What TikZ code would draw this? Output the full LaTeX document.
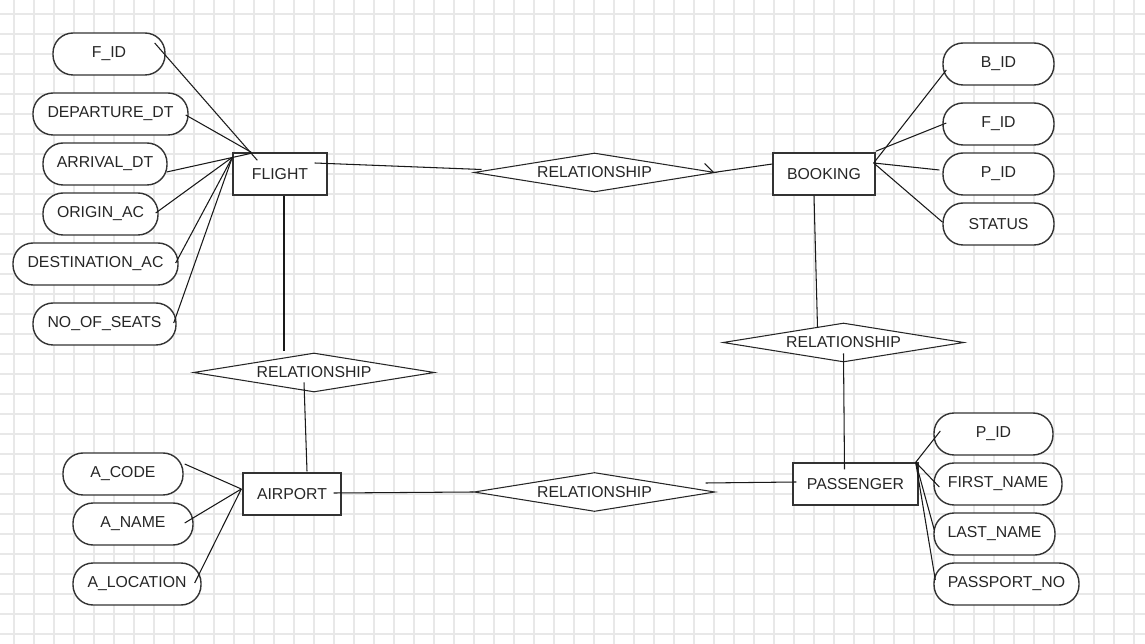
\documentclass[tikz,border=0pt]{standalone}
\usepackage{fontspec}
\setmainfont{Liberation Sans}
\usetikzlibrary{shapes.geometric}

\begin{document}
\begin{tikzpicture}[x=0.02cm,y=-0.02cm,font=\fontsize{9}{11}\selectfont,
    ent/.style={draw=black!80,fill=white,line width=0.8pt,minimum height=0.84cm,inner sep=0pt,text=black!85},
    attr/.style={draw=black!80,fill=white,line width=0.8pt,rounded corners=0.4cm,minimum height=0.84cm,inner sep=0pt,text=black!85},
    rel/.style={diamond,draw=black!85,fill=white,line width=0.6pt,aspect=6.2,inner sep=0pt,minimum width=4.82cm,minimum height=0.78cm,text=black!85},
    link/.style={black!90,line width=0.6pt},
    gridline/.style={black!9,line width=0.6pt}]
    \fill[white] (0,0) rectangle (1145,644);
    \useasboundingbox (0,0) rectangle (1145,644);
    \foreach \x in {14,34,...,1134} \draw[gridline] (\x,0) -- (\x,644);
    \foreach \y in {14,34,...,634} \draw[gridline] (0,\y) -- (1145,\y);

    \node[ent,minimum width=1.88cm] (flight) at (280,174) {FLIGHT};
    \node[ent,minimum width=2.04cm] (booking) at (824,174) {BOOKING};
    \node[ent,minimum width=1.96cm] (airport) at (292,494) {AIRPORT};
    \node[ent,minimum width=2.5cm] (passenger) at (855.5,484) {PASSENGER};

    \node[rel] (relfb) at (594.5,172.5) {RELATIONSHIP};
    \node[rel] (relfa) at (314,372.5) {RELATIONSHIP};
    \node[rel] (relbp) at (843.5,342.5) {RELATIONSHIP};
    \node[rel] (relap) at (594.5,492) {RELATIONSHIP};

    \node[attr,minimum width=2.24cm] (fid) at (109,54) {F\_ID};
    \node[attr,minimum width=3.1cm] (dep) at (110.5,114) {DEPARTURE\_DT};
    \node[attr,minimum width=2.48cm] (arr) at (105,164) {ARRIVAL\_DT};
    \node[attr,minimum width=2.3cm] (org) at (100.5,214) {ORIGIN\_AC};
    \node[attr,minimum width=3.3cm] (dst) at (95.5,264) {DESTINATION\_AC};
    \node[attr,minimum width=2.86cm] (nos) at (104.5,324) {NO\_OF\_SEATS};

    \node[attr,minimum width=2.22cm] (bid) at (998.5,64) {B\_ID};
    \node[attr,minimum width=2.22cm] (bfid) at (998.5,124) {F\_ID};
    \node[attr,minimum width=2.22cm] (bpid) at (998.5,174) {P\_ID};
    \node[attr,minimum width=2.22cm] (bstat) at (998.5,224) {STATUS};

    \node[attr,minimum width=2.4cm] (acode) at (123,474) {A\_CODE};
    \node[attr,minimum width=2.4cm] (aname) at (133,524) {A\_NAME};
    \node[attr,minimum width=2.56cm] (aloc) at (137,584) {A\_LOCATION};

    \node[attr,minimum width=2.38cm] (ppid) at (993.5,434) {P\_ID};
    \node[attr,minimum width=2.56cm] (pfn) at (998,484) {FIRST\_NAME};
    \node[attr,minimum width=2.42cm] (pln) at (994.5,534) {LAST\_NAME};
    \node[attr,minimum width=2.9cm] (ppn) at (1006.5,584) {PASSPORT\_NO};

    \coordinate (fhub) at ([shift={(0,5)}]flight.north west);
    \coordinate (bhub) at ([shift={(-2,-11)}]booking.east);
    \coordinate (ahub) at ([shift={(-1,-5)}]airport.west);
    \coordinate (phub) at ([shift={(-3,0)}]passenger.north east);

    \draw[link] ([shift={(-11,-11)}]fid.east) -- ([shift={(25,8)}]flight.north west);
    \draw[link] ([shift={(-3,1)}]dep.east) -- ([shift={(19,0)}]flight.north west);
    \draw[link] ([shift={(-1,8)}]arr.east) -- ([shift={(19,1)}]flight.north west);
    \foreach \a in {org,dst,nos}
      \draw[link] ([shift={(-3,-1)}]\a.east) -- (fhub);

    \draw[link] ([shift={(4,6)}]bid.west) -- (bhub);
    \draw[link] ([shift={(4,-1)}]bfid.west) -- ([shift={(0,-1)}]booking.north east);
    \draw[link] ([shift={(-3,-4)}]bpid.west) -- (bhub);
    \draw[link] ([shift={(0,-2)}]bstat.west) -- (bhub);

    \draw[link] ([shift={(1,-10)}]acode.east) -- (ahub);
    \draw[link] ([shift={(-9,-1)}]aname.east) -- (ahub);
    \draw[link] ([shift={(-7,-1)}]aloc.east) -- (ahub);

    \draw[link] ([shift={(7,-3)}]ppid.west) -- (phub);
    \draw[link] ([shift={(6,3)}]pfn.west) -- (phub);
    \draw[link] ([shift={(1,-4)}]pln.west) -- (phub);
    \draw[link] ([shift={(2,-4)}]ppn.west) -- (phub);

    \draw[link] ([shift={(-13,-11)}]flight.east) -- ([shift={(8,-3)}]relfb.west);
    \draw[link] ([shift={(-11,-9)}]relfb.east) -- ([shift={(-2,0)}]relfb.east) -- ([shift={(0,-10)}]booking.west);
    \draw[link] ([shift={(-10,0)}]booking.south) -- ([shift={(-26,5)}]relbp.north);
    \draw[link] ([shift={(0,11)}]relbp.center) -- ([shift={(-11,7)}]passenger.north);
    \draw[link] ([shift={(4,0)}]flight.south) -- ([shift={(-30,-1)}]relfa.north);
    \draw[link] ([shift={(-10,10)}]relfa.center) -- ([shift={(15,-1)}]airport.north);
    \draw[link] ([shift={(-8,-1)}]airport.east) -- (relap.west);
    \draw[link] ([shift={(-10,-9)}]relap.east) -- ([shift={(4,-2)}]passenger.west);
  \end{tikzpicture}
\end{document}
